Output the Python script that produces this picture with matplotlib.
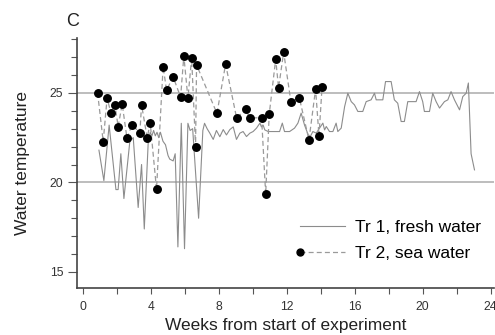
import matplotlib
matplotlib.use('Agg')
import matplotlib.pyplot as plt
from matplotlib.lines import Line2D
from matplotlib.legend_handler import HandlerLine2D
from matplotlib.ticker import MultipleLocator

plt.rcParams['font.family'] = ['Liberation Sans', 'DejaVu Sans']

# Tr 1, fresh water (solid)
fresh_weeks = [0.93, 1.22, 1.53, 1.93, 2.06, 2.22, 2.40, 2.75, 2.95, 3.24, 3.44, 3.60,
               3.83, 3.95, 4.05, 4.15, 4.25, 4.35, 4.45, 4.55, 4.70, 4.85, 5.00, 5.10,
               5.30, 5.42, 5.58, 5.78, 5.97, 6.17, 6.30, 6.45, 6.80, 7.05, 7.15, 7.30,
               7.46, 7.66, 7.85, 8.05, 8.25, 8.44, 8.64, 8.84, 9.03, 9.23, 9.42, 9.62,
               9.82, 10.01, 10.21, 10.41, 10.50, 10.60, 10.70, 10.90, 11.18, 11.57, 11.73,
               11.86, 12.16, 12.45, 12.65, 12.84, 13.04, 13.33, 13.53, 13.73, 13.92, 14.12,
               14.22, 14.32, 14.51, 14.71, 14.90, 15.00, 15.20, 15.40, 15.59, 15.79, 15.98,
               16.18, 16.47, 16.67, 16.96, 17.16, 17.26, 17.65, 17.81, 18.14, 18.33, 18.53,
               18.73, 18.92, 19.12, 19.61, 19.81, 20.00, 20.10, 20.40, 20.59, 20.79, 20.99,
               21.28, 21.48, 21.67, 21.87, 22.17, 22.36, 22.56, 22.69, 22.85, 23.05]
fresh_temp = [21.8, 20.1, 23.2, 19.6, 19.6, 21.6, 19.1, 22.3, 22.5, 18.6, 21.0, 17.4,
              22.2, 22.8, 22.6, 22.9, 22.6, 22.8, 22.5, 22.8, 22.3, 22.1, 21.5, 21.3,
              21.2, 21.6, 16.4, 23.3, 16.3, 23.3, 22.9, 23.0, 18.0, 22.9, 23.3, 23.0,
              22.75, 22.4, 22.9, 22.55, 22.95, 22.65, 22.95, 23.1, 22.4, 22.75, 22.84, 22.56,
              22.75, 22.84, 23.03, 23.31, 23.1, 23.2, 22.93, 22.84, 22.84, 22.84, 23.31,
              22.84, 22.84, 23.03, 23.31, 23.87, 23.2, 22.47, 22.84, 22.75, 23.03, 23.31,
              22.93, 23.12, 22.84, 22.84, 23.31, 22.84, 23.03, 24.23, 24.98, 24.51, 24.33,
              23.96, 23.96, 24.51, 24.61, 24.98, 24.61, 24.61, 25.63, 25.63, 24.61, 24.42,
              23.40, 23.40, 24.51, 24.51, 25.07, 24.51, 23.96, 23.96, 24.98, 24.51, 24.15,
              24.51, 24.61, 25.07, 24.61, 24.05, 24.79, 24.98, 25.55, 21.6, 20.7]

# Tr 2, sea water (dots + dashed)
sea_weeks = [0.85, 1.18, 1.41, 1.63, 1.87, 2.06, 2.30, 2.58, 2.87, 3.34, 3.44, 3.77,
             3.95, 4.32, 4.71, 4.91, 5.30, 5.74, 5.93, 6.17, 6.39, 6.62, 6.68, 7.88,
             8.39, 9.04, 9.57, 9.82, 10.51, 10.75, 10.96, 11.34, 11.51, 11.81, 12.24,
             12.73, 13.30, 13.69, 13.89, 14.07]
sea_temp = [25.0, 22.28, 24.70, 23.9, 24.33, 23.12, 24.37, 22.47, 23.21, 22.78, 24.33, 22.50,
            23.31, 19.62, 26.47, 25.15, 25.89, 24.76, 27.07, 24.70, 26.95, 22.0, 26.56, 23.85,
            26.6, 23.59, 24.09, 23.59, 23.62, 19.34, 23.81, 26.88, 25.28, 27.27, 24.48,
            24.74, 22.37, 25.21, 22.60, 25.30]

ref_levels = [20, 25]


class LeftMarker(HandlerLine2D):
    # dashed line with the dot sitting at its left end
    def create_artists(self, legend, orig_handle, xdescent, ydescent,
                       width, height, fontsize, trans):
        y = (height - ydescent) / 2
        line = Line2D([-xdescent, -xdescent + width], [y, y])
        self.update_prop(line, orig_handle, legend)
        line.set_marker('None')
        line.set_transform(trans)
        dot = Line2D([-xdescent], [y])
        self.update_prop(dot, orig_handle, legend)
        dot.set_linestyle('None')
        dot.set_transform(trans)
        return [line, dot]


fig = plt.figure(figsize=(4.95, 3.35), dpi=100)
ax = fig.add_axes([0.156, 0.140, 0.842, 0.747])

for lv in ref_levels:
    ax.axhline(lv, color='#bdbdbd', lw=1.4, zorder=1)

ax.plot(fresh_weeks, fresh_temp, color='#8c8c8c', lw=0.8, zorder=2)
ax.plot(sea_weeks, sea_temp, color='#9a9a9a', lw=0.9, ls=(0, (4, 2.5)), zorder=3)
ax.plot(sea_weeks, sea_temp, ls='none', marker='o', ms=5.4, color='black', zorder=4)

ax.set_xlim(-0.35, 24.2)
ax.set_ylim(14.1, 28.07)
ax.xaxis.set_major_locator(MultipleLocator(4))
ax.xaxis.set_minor_locator(MultipleLocator(2))
ax.yaxis.set_major_locator(MultipleLocator(5))
ax.yaxis.set_minor_locator(MultipleLocator(1))

for s in ['top', 'right']:
    ax.spines[s].set_visible(False)
for s in ['left', 'bottom']:
    ax.spines[s].set_color('#444444')
    ax.spines[s].set_linewidth(1.2)

ax.tick_params(axis='both', which='both', colors='#555555', labelcolor='#333333', labelsize=8.7, width=0.8)
ax.tick_params(axis='y', which='major', length=6.5)
ax.tick_params(axis='y', which='minor', length=4)
ax.tick_params(axis='x', which='major', length=4, pad=5)
ax.tick_params(axis='x', which='minor', length=4)

ax.set_xlabel('Weeks from start of experiment', fontsize=12.5, color='#222222', labelpad=4)
ax.set_ylabel('Water temperature', fontsize=12.5, color='#222222', labelpad=14)
fig.text(0.147, 0.935, 'C', fontsize=13, color='#222222', va='center', ha='center')

h1 = Line2D([], [], color='#8c8c8c', lw=0.8)
h2 = Line2D([], [], color='#9a9a9a', lw=0.9, ls=(0, (4, 2.5)), marker='o', ms=5, mfc='black', mec='black')
ax.legend([h1, h2], ['Tr 1, fresh water', 'Tr 2, sea water'],
          handler_map={h2: LeftMarker()},
          loc='center left', bbox_to_anchor=(300 / 495, 1 - 240.5 / 335),
          bbox_transform=fig.transFigure, frameon=False, fontsize=12.5,
          handlelength=2.6, handletextpad=0.57, labelspacing=0.62,
          borderpad=0, borderaxespad=0)

fig.savefig('out.png', dpi=100)
